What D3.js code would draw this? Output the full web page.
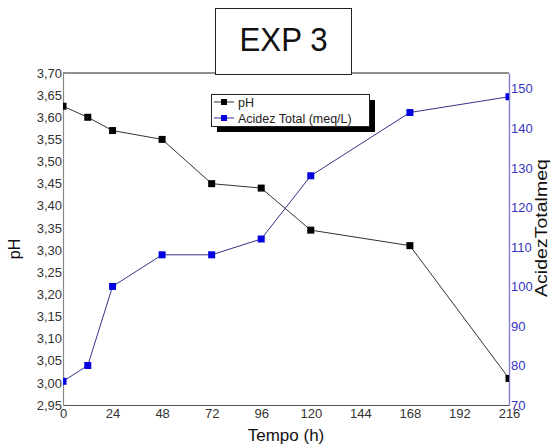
<!DOCTYPE html>
<html>
<head>
<meta charset="utf-8">
<script src="https://cdn.jsdelivr.net/npm/d3@7"></script>
<style>
  html, body { margin: 0; padding: 0; background: #fff; }
  svg { display: block; font-family: Arial, "Liberation Sans", sans-serif; }
</style>
</head>
<body>
<svg id="chart" width="552" height="446"></svg>
<script>
// Sampling times (h)
const tempo = [0, 12, 24, 48, 72, 96, 120, 168, 216];
// pH readings
const ph = [3.625, 3.60, 3.57, 3.55, 3.45, 3.44, 3.345, 3.31, 3.01];
// Total acidity (meq/L)
const acidez = [76, 80, 100, 108, 108, 112, 128, 144, 148];

const xTicks = [0, 24, 48, 72, 96, 120, 144, 168, 192, 216];
const phTicks = d3.range(2.95, 3.7001, 0.05);
const acTicks = [70, 80, 90, 100, 110, 120, 130, 140, 150];

const seriesNames = ["pH", "Acidez Total (meq/L)"];
const titleText = "EXP 3";
const xTitle = "Tempo (h)";
const yTitle = "pH";
const y2Title = "AcidezTotalmeq";

const svg = d3.select("#chart");
const L = 63, R = 509, T = 73, B = 405;

const x = d3.scaleLinear().domain([0, 216]).range([L, R]);
const y = d3.scaleLinear().domain([2.95, 3.70]).range([B, T]);
const y2 = d3.scaleLinear().domain([70, 154]).range([B, T]);

const fmt = d => d3.format(".2f")(d).replace(".", ",");
const FONT = "Arial, 'Liberation Sans', sans-serif";

// clip region for the data
svg.append("defs").append("clipPath").attr("id", "plotclip")
  .append("rect").attr("x", L).attr("y", T).attr("width", R - L).attr("height", B - T);

// top frame line
svg.append("line").attr("x1", L).attr("x2", R).attr("y1", T).attr("y2", T)
  .attr("stroke", "#222").attr("stroke-width", 1);

// bottom axis
const gx = svg.append("g").attr("transform", `translate(0,${B})`)
  .call(d3.axisBottom(x).tickValues(xTicks).tickSize(0).tickPadding(4));
gx.select(".domain").attr("stroke", "#555");
gx.selectAll("text").attr("fill", "#333").attr("font-size", 13).attr("font-family", FONT);

// left axis
const gy = svg.append("g").attr("transform", `translate(${L},0)`)
  .call(d3.axisLeft(y).tickValues(phTicks).tickFormat(fmt).tickSize(0).tickPadding(1));
gy.select(".domain").attr("stroke", "#888").attr("stroke-width", 1.2);
gy.selectAll("text").attr("fill", "#333").attr("font-size", 13).attr("font-family", FONT);

// right axis
const gy2 = svg.append("g").attr("transform", `translate(${R},0)`)
  .call(d3.axisRight(y2).tickValues(acTicks).tickSize(0).tickPadding(2));
gy2.select(".domain").attr("stroke", "#8080c8").attr("stroke-width", 1.4);
gy2.selectAll("text").attr("fill", "#3535c0").attr("font-size", 13).attr("font-family", FONT);

// data
const plot = svg.append("g").attr("clip-path", "url(#plotclip)");
const sz = 7;

const phData = tempo.map((t, i) => [t, ph[i]]);
const acData = tempo.map((t, i) => [t, acidez[i]]);

plot.append("path").datum(acData)
  .attr("fill", "none").attr("stroke", "#33338a").attr("stroke-width", 1)
  .attr("d", d3.line().x(d => x(d[0])).y(d => y2(d[1])));
plot.append("path").datum(phData)
  .attr("fill", "none").attr("stroke", "#333").attr("stroke-width", 1)
  .attr("d", d3.line().x(d => x(d[0])).y(d => y(d[1])));

plot.selectAll("rect.ac").data(acData).join("rect").attr("class", "ac")
  .attr("x", d => x(d[0]) - sz / 2).attr("y", d => y2(d[1]) - sz / 2)
  .attr("width", sz).attr("height", sz).attr("fill", "#0000e0");
plot.selectAll("rect.ph").data(phData).join("rect").attr("class", "ph")
  .attr("x", d => x(d[0]) - sz / 2).attr("y", d => y(d[1]) - sz / 2)
  .attr("width", sz).attr("height", sz).attr("fill", "#000");

// title box
const tb = svg.append("g");
tb.append("rect").attr("x", 215.5).attr("y", 8.5).attr("width", 136).attr("height", 66)
  .attr("fill", "#fff").attr("stroke", "#222").attr("stroke-width", 1);
tb.append("text").attr("transform", "translate(283.5,51) scale(0.92,1)")
  .attr("text-anchor", "middle").attr("font-size", 34).attr("fill", "#111").text(titleText);

// legend
const lg = svg.append("g");
lg.append("rect").attr("x", 217).attr("y", 100).attr("width", 158).attr("height", 32).attr("fill", "#000");
lg.append("rect").attr("x", 211.5).attr("y", 94.5).attr("width", 158).attr("height", 32)
  .attr("fill", "#fff").attr("stroke", "#222").attr("stroke-width", 1);
const legColors = [["#333", "#000"], ["#33338a", "#0000e0"]];
seriesNames.forEach((name, i) => {
  const cy = 102 + i * 16;
  lg.append("line").attr("x1", 214).attr("x2", 234).attr("y1", cy).attr("y2", cy)
    .attr("stroke", legColors[i][0]).attr("stroke-width", 1);
  lg.append("rect").attr("x", 221).attr("y", cy - 3).attr("width", 6).attr("height", 6)
    .attr("fill", legColors[i][1]);
  lg.append("text").attr("x", 238).attr("y", cy + 4.5).attr("font-size", 12.5)
    .attr("fill", "#222").text(name);
});

// axis titles
svg.append("text").attr("x", 286).attr("y", 441).attr("text-anchor", "middle")
  .attr("font-size", 17).attr("fill", "#111").text(xTitle);
svg.append("text").attr("transform", "translate(20,249) rotate(-90)")
  .attr("text-anchor", "middle").attr("font-size", 16).attr("fill", "#111").text(yTitle);
svg.append("text").attr("transform", "translate(547,228) rotate(-90) scale(1.15,1)")
  .attr("text-anchor", "middle").attr("font-size", 17).attr("fill", "#111").text(y2Title);
</script>
</body>
</html>
